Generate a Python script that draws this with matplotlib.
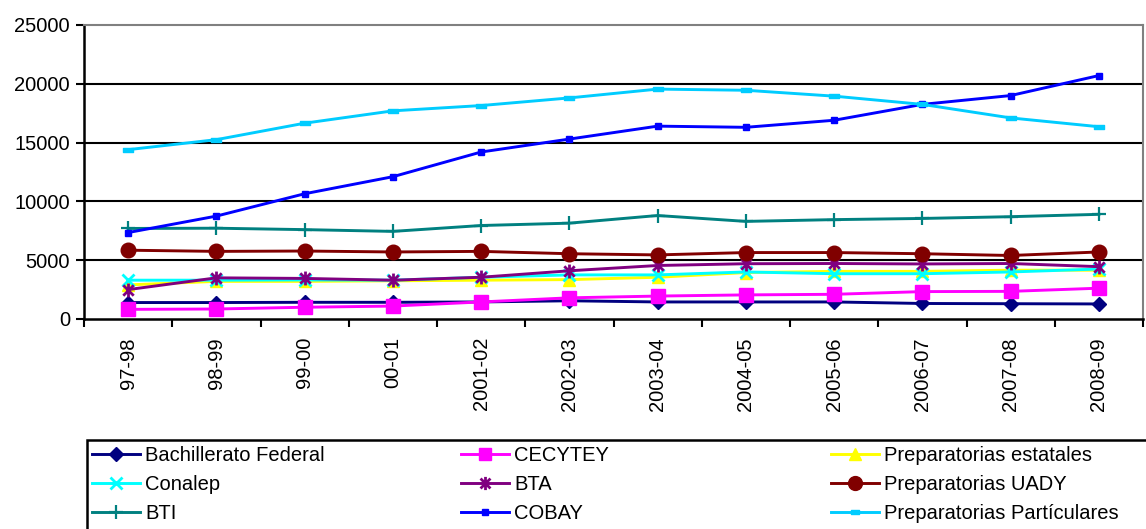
import matplotlib
matplotlib.use("Agg")
import matplotlib.pyplot as plt
from matplotlib.path import Path
from matplotlib.patches import Rectangle
import numpy as np

plt.rcParams['font.family'] = ['Liberation Sans', 'DejaVu Sans']

categories = ["97-98", "98-99", "99-00", "00-01", "2001-02", "2002-03", "2003-04",
              "2004-05", "2005-06", "2006-07", "2007-08", "2008-09"]

bach_federal = [1400, 1400, 1420, 1420, 1450, 1550, 1450, 1450, 1450, 1320, 1300, 1280]
cecytey = [820, 850, 1000, 1100, 1450, 1800, 1950, 2050, 2100, 2330, 2350, 2620]
prep_estatales = [2900, 3200, 3200, 3250, 3300, 3350, 3550, 3950, 4050, 4050, 4150, 4150]
conalep = [3300, 3300, 3320, 3300, 3550, 3750, 3750, 4000, 3850, 3850, 4000, 4250]
bta = [2500, 3500, 3450, 3300, 3550, 4100, 4550, 4700, 4720, 4680, 4720, 4450]
prep_uady = [5850, 5750, 5780, 5700, 5750, 5550, 5450, 5650, 5650, 5550, 5400, 5700]
bti = [7700, 7720, 7600, 7450, 7950, 8150, 8800, 8300, 8450, 8550, 8700, 8900]
cobay = [7350, 8750, 10650, 12100, 14200, 15300, 16400, 16300, 16900, 18250, 19000, 20700]
prep_particulares = [14400, 15250, 16650, 17700, 18150, 18800, 19550, 19450, 18950, 18250, 17100, 16350]

labels = ["Bachillerato Federal", "CECYTEY", "Preparatorias estatales", "Conalep", "BTA",
          "Preparatorias UADY", "BTI", "COBAY", "Preparatorias Partículares"]

asterisk = Path([(0, -1), (0, 1), (-0.75, -0.75), (0.75, 0.75), (-0.75, 0.75), (0.75, -0.75)],
                [Path.MOVETO, Path.LINETO, Path.MOVETO, Path.LINETO, Path.MOVETO, Path.LINETO])
dash = Path([(-1, -0.55), (1, -0.55), (1, 0.55), (-1, 0.55), (-1, -0.55)],
            [Path.MOVETO, Path.LINETO, Path.LINETO, Path.LINETO, Path.CLOSEPOLY])

series = [
    (bach_federal, "#000080", "D", 7.2, 1.0),
    (cecytey, "#FF00FF", "s", 9.5, 1.0),
    (prep_estatales, "#FFFF00", "^", 9, 1.0),
    (conalep, "#00FFFF", "x", 9, 2.0),
    (bta, "#800080", asterisk, 10, 2.0),
    (prep_uady, "#800000", "o", 10.5, 1.0),
    (bti, "#008080", "+", 10, 1.6),
    (cobay, "#0000FF", "s", 4.2, 1.0),
    (prep_particulares, "#00CCFF", dash, 6.5, 1.0),
]

fig = plt.figure(figsize=(11.46, 5.29), dpi=100)
W, H = 1146, 529
ax = fig.add_axes([84 / W, 1 - 319 / H, (1143 - 84) / W, (319 - 25) / H])

x = np.arange(len(categories))
lines = []
for (vals, col, mk, ms, mew), lab in zip(series, labels):
    ln, = ax.plot(x, vals, color=col, lw=2.1, marker=mk, markersize=ms,
                  markerfacecolor=col, markeredgecolor=col, markeredgewidth=mew,
                  label=lab, clip_on=False)
    lines.append(ln)

ax.set_xlim(-0.5, len(categories) - 0.5)
ax.set_ylim(0, 25000)
ax.set_yticks(np.arange(0, 25001, 5000))
for yv in [5000, 10000, 15000, 20000]:
    ax.axhline(yv, color="black", lw=1.5, zorder=0.5)

ax.set_xticks(x)
ax.set_xticklabels(categories, rotation=90, fontsize=14.5)
ax.set_xticks(np.arange(-0.5, len(categories)), minor=True)
ax.tick_params(axis="x", which="major", length=0, pad=13)
ax.tick_params(axis="x", which="minor", length=6, width=1.5, direction="out")
ax.tick_params(axis="y", length=6, width=1.5, direction="out", labelsize=14.5, pad=4)

for s in ["left", "bottom"]:
    ax.spines[s].set_color("black")
    ax.spines[s].set_linewidth(1.8)
for s in ["top", "right"]:
    ax.spines[s].set_color("#808080")
    ax.spines[s].set_linewidth(1.5)

# legend frame (extends past the right edge of the image, as in the reference)
fig.patches.append(Rectangle((87 / W, -0.01), (1160 - 87) / W, (529 - 440) / H + 0.01,
                             transform=fig.transFigure, fill=False,
                             edgecolor="black", lw=1.8))

cols = [[0, 3, 6], [1, 4, 7], [2, 5, 8]]
col_x = [92, 461, 831]
for cx, idx in zip(col_x, cols):
    fig.legend([lines[i] for i in idx], [labels[i] for i in idx],
               loc="upper left", bbox_to_anchor=(cx / W, 1 - 446 / H),
               frameon=False, fontsize=14.5, handlelength=2.4,
               handletextpad=0.25, labelspacing=0.5, borderpad=0,
               borderaxespad=0, numpoints=1, markerscale=0.95)

fig.savefig("out.png", dpi=100)
